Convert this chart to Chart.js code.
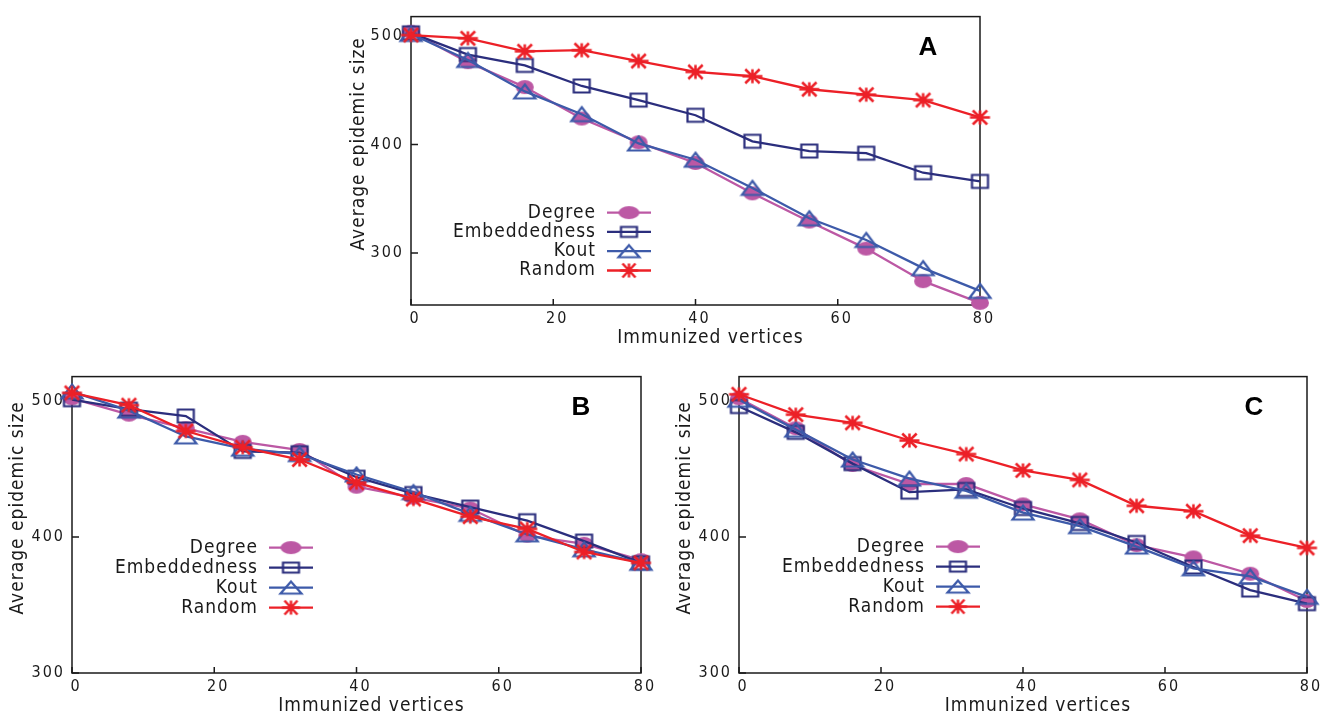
<!DOCTYPE html>
<html>
<head>
<meta charset="utf-8">
<title>Immunization</title>
<script src="https://cdn.jsdelivr.net/npm/chart.js@4.4.1/dist/chart.umd.min.js"></script>
<style>
html,body{margin:0;padding:0;background:#fff;}
body{width:1332px;height:718px;position:relative;overflow:hidden;}
canvas{position:absolute;}
#chartA{left:340px;top:0;}
#chartB{left:0;top:360px;}
#chartC{left:666px;top:360px;}
</style>
</head>
<body>
<canvas id="chartA" width="660" height="360"></canvas>
<canvas id="chartB" width="666" height="358"></canvas>
<canvas id="chartC" width="666" height="358"></canvas>
<script>

// =============================
// DATA
// =============================

const vertices = [0, 8, 16, 24, 32, 40, 48, 56, 64, 72, 80];
const strategies = ["Degree", "Embeddedness", "Kout", "Random"];
const xTicks = [0, 20, 40, 60, 80];
const yTicks = [300, 400, 500];

const degreeA = [504, 476, 453, 424, 402, 383, 355, 329, 304, 274, 254];
const embedA  = [503, 483, 473, 454, 441, 427, 403, 394, 392, 374, 366];
const koutA   = [502, 478, 449, 428, 401, 386, 360, 332, 312, 286, 265];
const randomA = [501, 498, 486, 487, 477, 467, 463, 451, 446, 441, 425];

const degreeB = [502, 490, 480, 470, 464, 437, 429, 421, 401, 395, 383];
const embedB  = [501, 494, 489, 463, 462, 444, 432, 422, 412, 397, 381];
const koutB   = [507, 493, 474, 465, 461, 446, 433, 417, 402, 391, 381];
const randomB = [506, 497, 478, 466, 457, 440, 428, 415, 406, 389, 381];

const degreeC = [502, 480, 453, 439, 439, 424, 413, 394, 385, 373, 353];
const embedC  = [496, 477, 454, 433, 435, 421, 410, 396, 378, 361, 351];
const koutC   = [501, 479, 457, 443, 434, 418, 408, 393, 377, 371, 356];
const randomC = [505, 490, 484, 471, 461, 449, 442, 423, 419, 401, 392];


// =============================
// STYLE
// =============================

const FONT = "'Liberation Sans Narrow', 'Arial Narrow', 'DejaVu Sans Condensed', 'Liberation Sans', sans-serif";
const TICK_SPACING = "2px";
const TEXT_SPACING = "1px";
const INK = "#1a1a1a";

const colors = ["#bc58a4", "#2b2e7d", "#3d5aa9", "#ec2027"];
const kinds = ["circle", "square", "triangle", "star"];

// point images: w, h, line width (plot / legend)
const plotSize = [[18, 14, 0], [16, 13, 2.2], [21, 14, 2.2], [20, 14, 2.5]];
const legendSize = [[21, 13, 0], [16, 10, 2.2], [21, 12, 2.2], [18, 14, 2.5]];

function marker(kind, color, w, h, lw) {
const c = document.createElement("canvas");
c.width = Math.ceil(w + lw + 2);
c.height = Math.ceil(h + lw + 2);
const g = c.getContext("2d");
const cx = c.width / 2, cy = c.height / 2;
g.strokeStyle = color;
g.fillStyle = color;
g.lineWidth = lw;
g.beginPath();
if (kind === "circle") {
g.ellipse(cx, cy, w / 2, h / 2, 0, 0, Math.PI * 2);
g.fill();
} else if (kind === "square") {
g.rect(cx - w / 2, cy - h / 2, w, h);
g.stroke();
} else if (kind === "triangle") {
g.moveTo(cx, cy - h / 2);
g.lineTo(cx + w / 2, cy + h / 2);
g.lineTo(cx - w / 2, cy + h / 2);
g.closePath();
g.stroke();
} else {
g.moveTo(cx - w / 2, cy); g.lineTo(cx + w / 2, cy);
g.moveTo(cx, cy - h / 2); g.lineTo(cx, cy + h / 2);
g.moveTo(cx - w * 0.36, cy - h / 2); g.lineTo(cx + w * 0.36, cy + h / 2);
g.moveTo(cx + w * 0.36, cy - h / 2); g.lineTo(cx - w * 0.36, cy + h / 2);
g.stroke();
}
return c;
}

const plotMarkers = kinds.map((k, i) => marker(k, colors[i], ...plotSize[i]));
const legendMarkers = kinds.map((k, i) => marker(k, colors[i], ...legendSize[i]));


// =============================
// FRAME, TITLES, LEGEND
// =============================

const frame = {
id: "frame",

beforeUpdate(chart) {
chart.ctx.letterSpacing = TICK_SPACING;
},

beforeDraw(chart) {
chart.ctx.letterSpacing = TICK_SPACING;
},

beforeDatasetsDraw(chart) {
const { ctx, chartArea: a, scales } = chart;
ctx.save();
ctx.strokeStyle = INK;
ctx.lineWidth = 1.5;
ctx.strokeRect(a.left, a.top, a.right - a.left, a.bottom - a.top);
ctx.beginPath();
scales.x.ticks.forEach(t => {
const px = scales.x.getPixelForValue(t.value);
ctx.moveTo(px, a.bottom);
ctx.lineTo(px, a.bottom - 6);
});
scales.y.ticks.forEach(t => {
const py = scales.y.getPixelForValue(t.value);
ctx.moveTo(a.left, py);
ctx.lineTo(a.left + 7, py);
});
ctx.stroke();
ctx.restore();
},

afterDatasetsDraw(chart, args, opts) {
const { ctx, chartArea: a } = chart;
ctx.save();
ctx.letterSpacing = TEXT_SPACING;
ctx.fillStyle = INK;
ctx.font = "19px " + FONT;
ctx.textAlign = "center";
ctx.textBaseline = "middle";

// axis titles
ctx.fillText("Immunized vertices", (a.left + a.right) / 2 + 15, a.bottom + 33);
ctx.save();
ctx.translate(a.left - opts.yTitleGap, (a.top + a.bottom) / 2 - 17);
ctx.rotate(-Math.PI / 2);
ctx.fillText("Average epidemic size", 0, 0);
ctx.restore();

// legend: text, then line with marker
const textRight = a.left + opts.legendX;
chart.data.datasets.forEach((ds, i) => {
const y = a.top + opts.legendY + i * opts.legendGap;
ctx.textAlign = "right";
ctx.fillText(ds.label, textRight, y);
ctx.strokeStyle = ds.borderColor;
ctx.lineWidth = ds.borderWidth;
ctx.beginPath();
ctx.moveTo(textRight + 11, y);
ctx.lineTo(textRight + 55, y);
ctx.stroke();
const m = ds.legendMarker;
ctx.drawImage(m, textRight + 33 - m.width / 2, y - m.height / 2);
});

// panel letter
ctx.letterSpacing = "0px";
ctx.font = "bold 26px 'Liberation Sans', Arial, sans-serif";
ctx.textAlign = "center";
ctx.fillStyle = "#000";
ctx.fillText(opts.letter, a.right - opts.letterDx, a.top + 31);
ctx.restore();
}
};


// =============================
// CHARTS
// =============================

function makeChart(id, series, yMin, pad, yWidth, xHeight, extra) {

const datasets = series.map((vals, i) => ({
label: strategies[i],
data: vertices.map((v, j) => ({ x: v, y: vals[j] })),
borderColor: colors[i],
backgroundColor: colors[i],
borderWidth: 2.3,
pointStyle: plotMarkers[i],
pointRadius: 8,
pointHoverRadius: 8,
legendMarker: legendMarkers[i],
order: 4 - i,
clip: false,
tension: 0
}));

return new Chart(document.getElementById(id), {
type: "line",
data: { datasets: datasets },
options: {
responsive: false,
animation: false,
events: [],
layout: { padding: pad },
plugins: {
legend: { display: false },
tooltip: { enabled: false },
frame: extra
},
scales: {
x: {
type: "linear",
min: 0,
max: 80,
afterBuildTicks: s => { s.ticks = xTicks.map(v => ({ value: v })); },
afterFit: s => { s.height = xHeight; },
ticks: { color: INK, font: { family: FONT, size: 16 }, padding: 4, labelOffset: 4, maxRotation: 0 },
grid: { display: false, drawTicks: false },
border: { display: false }
},
y: {
min: yMin,
max: 518,
afterBuildTicks: s => { s.ticks = yTicks.map(v => ({ value: v })); },
afterFit: s => { s.width = yWidth; },
ticks: { color: INK, font: { family: FONT, size: 16 }, padding: 7 },
grid: { display: false, drawTicks: false },
border: { display: false }
}
}
},
plugins: [frame]
});

}

makeChart("chartA", [degreeA, embedA, koutA, randomA], 252,
{ left: 0, top: 8, right: 20, bottom: 0 }, 71, 55,
{ letter: "A", letterDx: 52, yTitleGap: 52, legendX: 185, legendY: 196, legendGap: 19.3 });

makeChart("chartB", [degreeB, embedB, koutB, randomB], 300,
{ left: 0, top: 16, right: 25, bottom: 0 }, 72, 45,
{ letter: "B", letterDx: 60, yTitleGap: 54, legendX: 186, legendY: 171, legendGap: 20 });

makeChart("chartC", [degreeC, embedC, koutC, randomC], 300,
{ left: 0, top: 16, right: 25, bottom: 0 }, 73, 45,
{ letter: "C", letterDx: 53, yTitleGap: 54, legendX: 186, legendY: 170, legendGap: 20 });

</script>
</body>
</html>
